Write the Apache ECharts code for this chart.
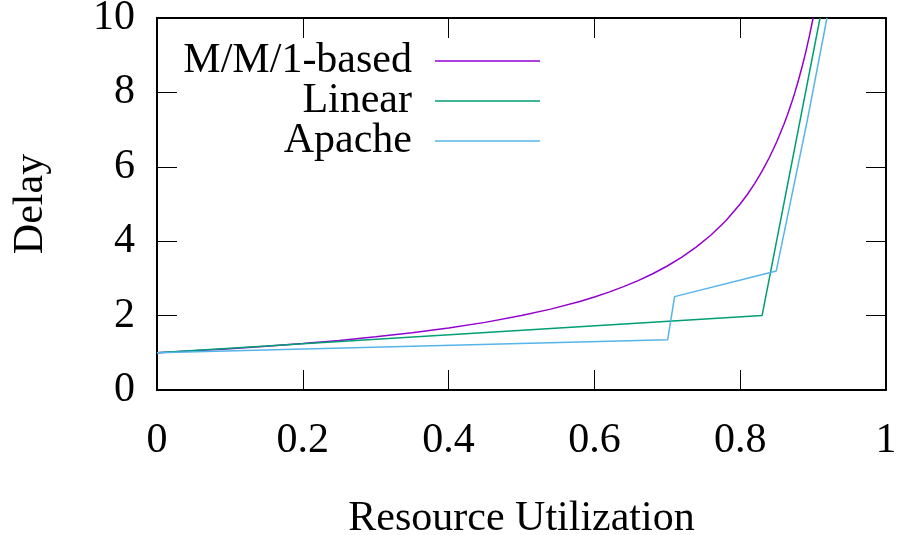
<!DOCTYPE html>
<html>
<head>
<meta charset="utf-8">
<script src="https://cdn.jsdelivr.net/npm/echarts@6/dist/echarts.min.js"></script>
<style>html,body{margin:0;padding:0;background:#fff}#c{width:899px;height:535px}</style>
</head>
<body>
<div id="c"></div>
<script>
// Data
const mm1U = [0, 0.05, 0.1, 0.15, 0.2, 0.25, 0.3, 0.35, 0.4, 0.45, 0.5, 0.54, 0.58, 0.6, 0.62, 0.64, 0.66, 0.68, 0.7, 0.72, 0.74, 0.76, 0.78, 0.8, 0.81, 0.82, 0.83, 0.84, 0.85, 0.86, 0.865, 0.87, 0.875, 0.88, 0.885, 0.89, 0.895, 0.9];
const mm1Delay = [1, 1.053, 1.111, 1.176, 1.25, 1.333, 1.429, 1.538, 1.667, 1.818, 2, 2.174, 2.381, 2.5, 2.632, 2.778, 2.941, 3.125, 3.333, 3.571, 3.846, 4.167, 4.545, 5, 5.263, 5.556, 5.882, 6.25, 6.667, 7.143, 7.407, 7.692, 8, 8.333, 8.696, 9.091, 9.524, 10];
const linearU = [0, 0.83, 0.9095];
const linearDelay = [1, 2.0, 10];
const apacheU = [0, 0.7005, 0.710, 0.8495, 0.8926, 0.919];
const apacheDelay = [1, 1.35, 2.51, 3.2, 7.3, 10];
const seriesNames = ['M/M/1-based', 'Linear', 'Apache'];
const xTicks = [0, 0.2, 0.4, 0.6, 0.8, 1];
const yTicks = [0, 2, 4, 6, 8, 10];

const colors = ['#9400d3', '#009e73', '#56b4e9'];
const FONT = '"Liberation Serif", "Times New Roman", serif';
const pairs = (xs, ys) => xs.map((x, i) => [x, ys[i]]);

const chart = echarts.init(document.getElementById('c'), null, {renderer: 'canvas'});

const axisBase = {
  type: 'value',
  splitLine: {show: false},
  axisLine: {show: true, onZero: false, lineStyle: {color: '#000', width: 2}},
  axisTick: {show: true, inside: true, length: 20, lineStyle: {color: '#000', width: 1}}
};

function legendFor(i, top) {
  return {
    data: [{name: seriesNames[i], icon: 'rect'}],
    right: 359,
    top: top,
    orient: 'horizontal',
    align: 'right',
    itemWidth: 105,
    itemHeight: 1.5,
    padding: 0,
    selectedMode: false,
    textStyle: {fontFamily: FONT, fontSize: 42, color: '#000', lineHeight: 42, padding: [0, 18, 0, 0]}
  };
}

chart.setOption({
  animation: false,
  backgroundColor: '#fff',
  color: colors,
  grid: {left: 157, right: 13, top: 18, bottom: 145, containLabel: false, outerBoundsMode: 'none'},
  legend: [legendFor(0, 40), legendFor(1, 80), legendFor(2, 120)],
  xAxis: [
    Object.assign({}, axisBase, {
      position: 'bottom', min: xTicks[0], max: xTicks[xTicks.length - 1], interval: 0.2,
      name: 'Resource Utilization', nameLocation: 'middle', nameGap: 108,
      nameTextStyle: {fontFamily: FONT, fontSize: 42, color: '#000'},
      axisLabel: {fontFamily: FONT, fontSize: 42, color: '#000', margin: 30, lineHeight: 42,
        formatter: v => String(+v.toFixed(1))}
    }),
    Object.assign({}, axisBase, {
      position: 'top', min: xTicks[0], max: xTicks[xTicks.length - 1], interval: 0.2,
      axisLabel: {show: false}
    })
  ],
  yAxis: [
    Object.assign({}, axisBase, {
      position: 'left', min: yTicks[0], max: yTicks[yTicks.length - 1], interval: 2,
      name: 'Delay', nameLocation: 'middle', nameGap: 105, nameRotate: 90,
      nameTextStyle: {fontFamily: FONT, fontSize: 42, color: '#000'},
      axisLabel: {fontFamily: FONT, fontSize: 42, color: '#000', margin: 22}
    }),
    Object.assign({}, axisBase, {
      position: 'right', min: yTicks[0], max: yTicks[yTicks.length - 1], interval: 2,
      axisLabel: {show: false}
    })
  ],
  series: [
    {name: seriesNames[0], type: 'line', data: pairs(mm1U, mm1Delay), showSymbol: false, symbol: 'none',
      lineStyle: {width: 1.5, color: colors[0]}, clip: true},
    {name: seriesNames[1], type: 'line', data: pairs(linearU, linearDelay), showSymbol: false, symbol: 'none',
      lineStyle: {width: 1.5, color: colors[1]}, clip: true},
    {name: seriesNames[2], type: 'line', data: pairs(apacheU, apacheDelay), showSymbol: false, symbol: 'none',
      lineStyle: {width: 1.5, color: colors[2]}, clip: true}
  ]
});
</script>
</body>
</html>
